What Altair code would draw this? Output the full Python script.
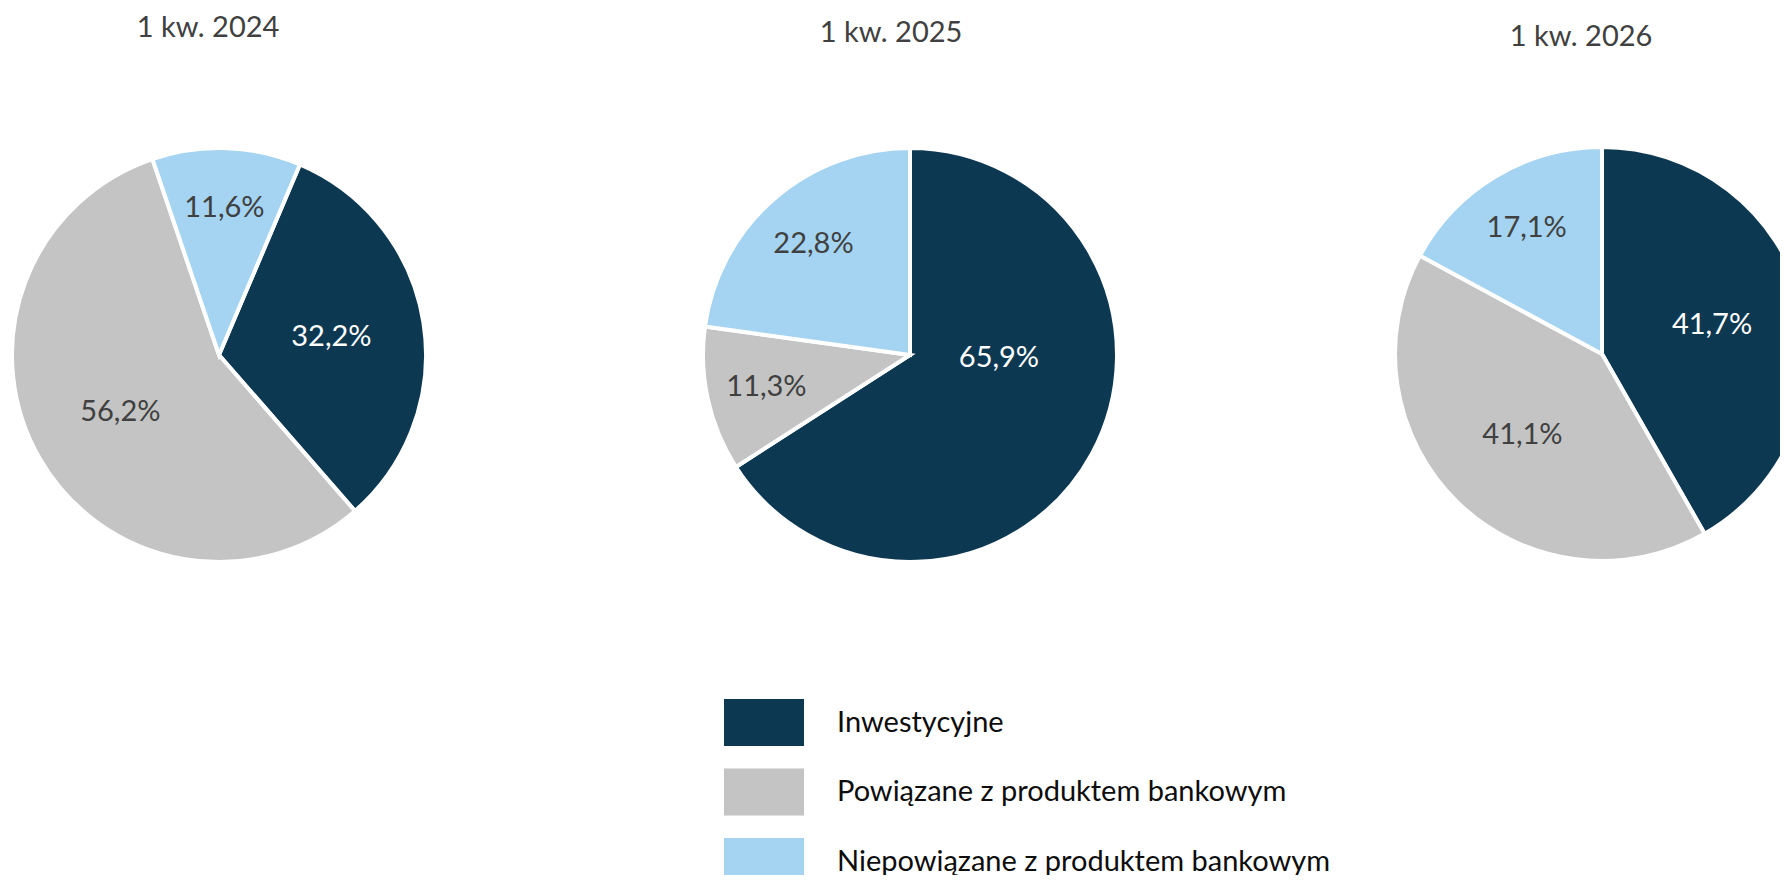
import math
import altair as alt
import pandas as pd

# ---------------- data ----------------
PERIODS = ["1 kw. 2024", "1 kw. 2025", "1 kw. 2026"]
CATEGORIES = [
    "Inwestycyjne",
    "Powiązane z produktem bankowym",
    "Niepowiązane z produktem bankowym",
]
SHARE_2024 = [32.2, 56.2, 11.6]
SHARE_2025 = [65.9, 11.3, 22.8]
SHARE_2026 = [41.7, 41.1, 17.1]
SHARES = [SHARE_2024, SHARE_2025, SHARE_2026]

# ---------------- style / layout ----------------
COLORS = ["#0D3852", "#C4C4C4", "#A4D4F1"]
FONT = "Lato"
TEXT_GREY = "#404040"
W, H = 1772, 867
R = 207
# per pie: centre x, centre y, start angle (deg), title x, title baseline y
PIES = [
    (211, 347, 23.0, 200, 29),
    (902, 347, 0.0, 883, 34),
    (1594, 346, 0.0, 1573, 38),
]

SYMBOL = "M-1,-0.5875H1V0.5875H-1Z"
legend = alt.Legend(
    title=None,
    orient="none",
    legendX=716,
    legendY=674.5,
    direction="vertical",
    padding=0,
    symbolType=SYMBOL,
    symbolSize=6400,
    symbolStrokeWidth=0,
    symbolOpacity=1,
    labelFont=FONT,
    labelFontSize=29,
    labelColor="#0D0D0D",
    labelOffset=33,
    labelLimit=1000,
    rowPadding=5.5,
)
color_scale = alt.Scale(domain=CATEGORIES, range=COLORS)


def pie(i):
    cx, cy, start, tx, ty = PIES[i]
    df = pd.DataFrame(
        {
            "category": CATEGORIES,
            "share": SHARES[i],
            "order": list(range(len(CATEGORIES))),
        }
    )
    a0 = math.radians(start)
    theta_scale = alt.Scale(domain=[0, 1], range=[a0, a0 + 2 * math.pi])
    base = alt.Chart(df)

    arcs = base.mark_arc(radius=R, stroke="white", strokeWidth=4, clip=True).encode(
        theta=alt.Theta("share:Q", stack="normalize", scale=theta_scale),
        color=alt.Color("category:N", scale=color_scale, legend=legend, sort=CATEGORIES),
        order=alt.Order("order:Q"),
        x=alt.value(cx),
        y=alt.value(cy),
    )

    labels = (
        base.transform_joinaggregate(total="sum(share)")
        .transform_window(cum="sum(share)", sort=[alt.SortField("order")], frame=[None, 0])
        .transform_calculate(
            mid="(datum.cum - datum.share / 2) / datum.total - (datum.share > 60 ? 0.074 : 0)",
            lr=f"datum.share > 60 ? {R * 0.43} : (datum.share < 25 ? {R * 0.71} : {R * 0.55})",
            txt="replace(format(datum.share, '.1f'), '.', ',') + '%'",
        )
        .mark_text(font=FONT, fontSize=29, align="center", baseline="middle")
        .encode(
            theta=alt.Theta("mid:Q", scale=theta_scale),
            radius=alt.Radius("lr:Q", scale=None),
            text=alt.Text("txt:N"),
            color=alt.condition("datum.order == 0", alt.value("white"), alt.value(TEXT_GREY)),
            x=alt.value(cx),
            y=alt.value(cy),
        )
    )

    title = (
        alt.Chart(pd.DataFrame({"period": [PERIODS[i]]}))
        .mark_text(font=FONT, fontSize=29, color=TEXT_GREY, align="center", baseline="alphabetic")
        .encode(text="period:N", x=alt.value(tx), y=alt.value(ty))
    )
    return alt.layer(arcs, labels, title)


chart = (
    alt.layer(*[pie(i) for i in range(len(PERIODS))])
    .resolve_scale(theta="independent")
    .properties(
        width=W,
        height=H,
        autosize=alt.AutoSizeParams(type="none"),
        padding=0,
        background="white",
    )
    .configure_view(strokeWidth=0)
)

chart.save("out.html", embed_options={"renderer": "svg", "actions": False})
